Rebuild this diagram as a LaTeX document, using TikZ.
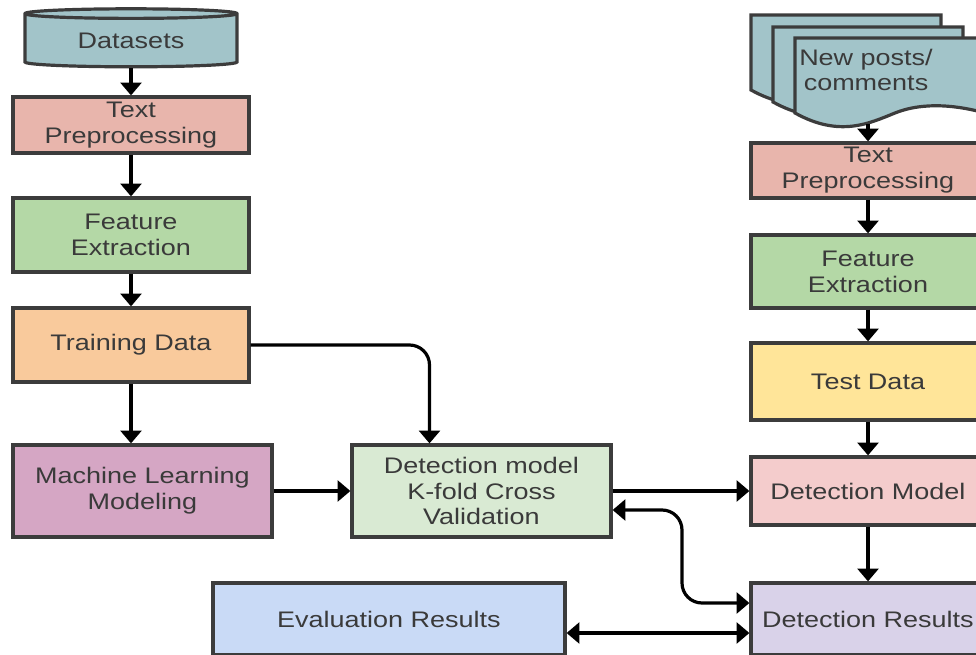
\documentclass[tikz,border=0pt]{standalone}
\usepackage{fontspec}
\setmainfont{Liberation Sans}[FakeStretch=1.2]
\usetikzlibrary{arrows.meta,shapes.geometric}

\definecolor{dsfill}{HTML}{A2C4C9}
\definecolor{prefill}{HTML}{E8B5AC}
\definecolor{featfill}{HTML}{B4D8A6}
\definecolor{trainfill}{HTML}{F9CA9C}
\definecolor{mlfill}{HTML}{D5A6C4}
\definecolor{kffill}{HTML}{D9EAD3}
\definecolor{evalfill}{HTML}{C9DAF6}
\definecolor{resfill}{HTML}{D9D2E9}
\definecolor{dmfill}{HTML}{F4CCCC}
\definecolor{testfill}{HTML}{FFE599}
\definecolor{edge}{HTML}{3C3C3C}
\definecolor{ink}{HTML}{3A3A3A}

\begin{document}
\begin{tikzpicture}[
        x = 0.25mm, y = -0.25mm,
        > = {Triangle[length=3.2mm,width=5.2mm]},
        line width = 0.8mm,
        box/.style = {draw = edge, line width = 0.8mm, rectangle, align = center,
            text = ink, font = \fontsize{16}{18.4}\selectfont, inner sep = 0pt},
        flow/.style = {->, black},
        both/.style = {<->, black}
    ]
        \useasboundingbox (0,0) rectangle (976,655);
        \clip (0,0) rectangle (976,655);

        % left column
        \node[box, cylinder, shape border rotate = 90, aspect = 0.09, fill = dsfill,
            minimum width = 53mm, minimum height = 14.5mm] (ds) at (131,41) {\raisebox{-0.5mm}{Datasets}};
        \node[box, fill = prefill, minimum width = 59mm, minimum height = 14mm] (tpa) at (131,125) {Text\\Preprocessing};
        \node[box, fill = featfill, minimum width = 59mm, minimum height = 18.5mm] (fea) at (131,235) {Feature\\Extraction};
        \node[box, fill = trainfill, minimum width = 59mm, minimum height = 18.5mm] (td) at (131,345) {Training Data};
        \node[box, fill = mlfill, minimum width = 64.75mm, minimum height = 23mm] (ml) at (142.5,491) {Machine Learning\\Modeling};
        \node[box, fill = kffill, minimum width = 64.75mm, minimum height = 23mm] (kf) at (481.5,491) {Detection model\\K-fold Cross\\Validation};
        \node[box, fill = evalfill, minimum width = 88mm, minimum height = 18mm] (ev) at (389,619) {Evaluation Results};

        % right column
        \foreach \dx/\dy in {0/0, 22/12, 44/23}
            \draw[draw = edge, line width = 0.8mm, fill = dsfill] (751+\dx,15+\dy) -- (751+\dx,90+\dy)
                .. controls (796+\dx,115+\dy) and (826+\dx,100+\dy) .. (851+\dx,90+\dy)
                .. controls (881+\dx,78+\dy) and (916+\dx,83+\dy) .. (941+\dx,90+\dy)
                -- (941+\dx,15+\dy) -- cycle;
        \node[align = center, text = ink, font = \fontsize{16}{18.4}\selectfont] (posts) at (866,70) {New posts/\\comments};
        \coordinate (postsend) at (868,124);
        \node[box, fill = prefill, minimum width = 58.5mm, minimum height = 13.75mm] (tpb) at (868,170.5) {Text\\Preprocessing};
        \node[box, fill = featfill, minimum width = 58.5mm, minimum height = 18.25mm] (feb) at (868,271.5) {Feature\\Extraction};
        \node[box, fill = testfill, minimum width = 58.5mm, minimum height = 19.25mm] (test) at (868,381.5) {Test Data};
        \node[box, fill = dmfill, minimum width = 58.5mm, minimum height = 17mm] (dm) at (868,491) {Detection Model};
        \node[box, fill = resfill, minimum width = 58.5mm, minimum height = 18mm] (dr) at (868,619) {Detection Results};

        % connectors
        \draw[flow] (ds) -- (tpa);
        \draw[flow] (tpa) -- (fea);
        \draw[flow] (fea) -- (td);
        \draw[flow] (td.south) -- (td.south |- ml.north);
        \draw[flow, rounded corners = 5mm] (td.east) -| ([xshift = -13mm]kf.north);
        \draw[flow] (ml.east |- kf.west) -- (kf.west);
        \draw[flow] (kf.east) -- (dm.west);
        \draw[both, rounded corners = 5mm] ([yshift = -4.75mm]kf.east) -| (682,560) |- ([yshift = 4mm]dr.west);
        \draw[both] ([yshift = -3.5mm]ev.east) -- ([yshift = -3.5mm]dr.west);
        \draw[flow] (postsend) -- (tpb);
        \draw[flow] (tpb) -- (feb);
        \draw[flow] (feb) -- (test);
        \draw[flow] (test) -- (dm);
        \draw[flow] (dm) -- (dr);
    \end{tikzpicture}
\end{document}
